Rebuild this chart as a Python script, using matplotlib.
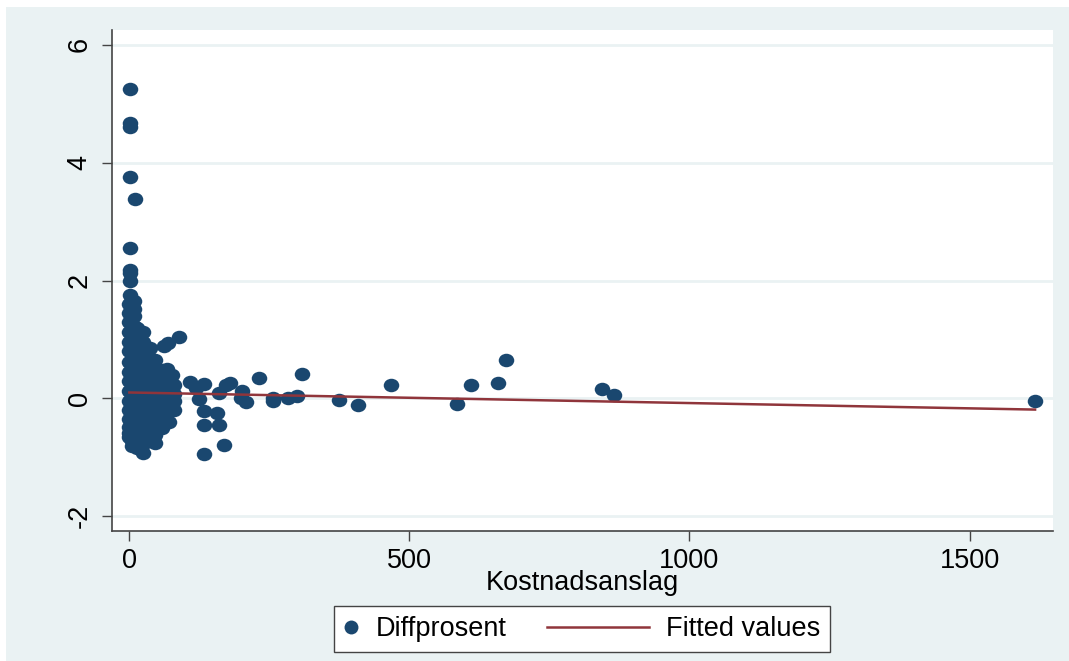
"""
plot.py
Scatter of Diffprosent against Kostnadsanslag with a fitted line, Stata s2color look.
"""

import matplotlib
matplotlib.use("Agg")
import matplotlib.pyplot as plt
from matplotlib.legend_handler import HandlerLine2D
from matplotlib.lines import Line2D
from matplotlib.markers import MarkerStyle
from matplotlib.patches import Rectangle
from matplotlib.path import Path
from matplotlib.transforms import Affine2D

#Colors
navy = "#1a476f"
maroon = "#90353b"
background = "#eaf2f3"
axis_color = "#444444"

#Isolated points on the top of the cloud and on the right of it
outer_x = [1, 2, 1, 1, 10, 1, 2, 2, 1, 1,
           88, 69, 62, 67, 76, 45,
           108, 119, 133, 124, 133, 156, 133, 160, 169, 133,
           160, 172, 179, 201, 199, 208, 231, 256, 256, 283, 299, 308,
           374, 408, 467, 585, 610, 658, 672, 844, 865, 1617]
outer_y = [5.25, 4.67, 4.6, 3.75, 3.38, 2.55, 2.18, 2.12, 2.0, 1.75,
           1.04, 0.94, 0.89, 0.5, 0.39, 0.65,
           0.28, 0.18, 0.24, -0.01, -0.21, -0.25, -0.45, -0.45, -0.79, -0.94,
           0.09, 0.23, 0.26, 0.13, 0.0, -0.06, 0.35, 0.01, -0.04, 0.0, 0.04, 0.41,
           -0.03, -0.11, 0.23, -0.1, 0.23, 0.26, 0.65, 0.16, 0.06, -0.05]

cloud_x = [0] * 16 + [8] * 15 + [14] * 13 + [24] * 13 + [36] * 10 + [46] * 8 + [58] * 7 + [70] * 7 + [80] * 4 + [5] * 2
cloud_y = [1.6, 1.45, 1.3, 1.12, 0.95, 0.8, 0.62, 0.45, 0.3, 0.12, -0.05, -0.2, -0.35, -0.48, -0.58, -0.66,
           1.65, 1.52, 1.4, 1.22, 1.05, 0.88, 0.7, 0.52, 0.35, 0.18, 0.0, -0.18, -0.35, -0.52, -0.68,
           1.2, 1.05, 0.9, 0.72, 0.55, 0.38, 0.2, 0.02, -0.15, -0.32, -0.5, -0.68, -0.84,
           1.12, 0.95, 0.78, 0.6, 0.42, 0.25, 0.08, -0.1, -0.28, -0.45, -0.62, -0.78, -0.92,
           0.85, 0.68, 0.5, 0.32, 0.15, -0.02, -0.2, -0.38, -0.55, -0.72,
           0.42, 0.25, 0.08, -0.1, -0.28, -0.45, -0.62, -0.75,
           0.48, 0.35, 0.2, 0.02, -0.15, -0.32, -0.5,
           0.3, 0.12, -0.05, -0.22, -0.4, 0.42, 0.2,
           0.22, 0.08, -0.05, -0.2,
           -0.72, -0.8]

#Fitted line
fit_x = [0, 1617]
fit_y = [0.1, -0.19]

#Ticks
x_ticks = [0, 500, 1000, 1500]
y_ticks = [-2, 0, 2, 4, 6]


class NarrowHandler(HandlerLine2D):
    #Only the marker entry gets a short handle, Stata draws it that way

    def legend_artist(self, legend, orig_handle, fontsize, handlebox):
        handlebox.width = fontsize * 0.55
        return super().legend_artist(legend, orig_handle, fontsize, handlebox)


plt.rcParams["font.family"] = ["Liberation Sans", "DejaVu Sans"]
plt.rcParams["axes.unicode_minus"] = False

fig = plt.figure(figsize=(10.69, 6.61), dpi=100, facecolor="white")
fig.patches.append(Rectangle((6 / 1069, 0), 1063 / 1069, 654 / 661, transform=fig.transFigure,
                             facecolor=background, edgecolor="none", zorder=-5))

ax = fig.add_axes([112 / 1069, 130 / 661, 941 / 1069, 501 / 661], facecolor="white")
ax.set_xlim(-31, 1649)
ax.set_ylim(-2.25, 6.25)

ax.yaxis.grid(True, color=background, linewidth=2)
ax.set_axisbelow(True)

#The original picture is stretched sideways, so the dots are slightly wide
wide_dot = MarkerStyle(Path.unit_circle().transformed(Affine2D().scale(1.15, 1)))
ax.scatter(outer_x + cloud_x, outer_y + cloud_y, s=125, marker=wide_dot, color=navy, linewidths=0, zorder=3)
ax.plot(fit_x, fit_y, color=maroon, linewidth=1.8, zorder=4)

ax.set_xticks(x_ticks)
ax.set_yticks(y_ticks)
ax.tick_params(axis="both", length=7, width=1, color=axis_color, labelsize=19.5, labelcolor="black")
ax.tick_params(axis="x", pad=5)
ax.tick_params(axis="y", pad=7)
plt.setp(ax.get_yticklabels(), rotation=90, va="center")

ax.spines["top"].set_visible(False)
ax.spines["right"].set_visible(False)
ax.spines["left"].set_color(axis_color)
ax.spines["bottom"].set_color(axis_color)
ax.spines["left"].set_linewidth(1.2)
ax.spines["bottom"].set_linewidth(1.2)

ax.set_xlabel("Kostnadsanslag", fontsize=19.5, labelpad=-2.5)

marker_handle = Line2D([], [], linestyle="none", marker="o", markersize=10,
                       markerfacecolor=navy, markeredgecolor="none")
line_handle = Line2D([], [], color=maroon, linewidth=1.8)
legend = fig.legend([marker_handle, line_handle], ["Diffprosent", "Fitted values"],
                    handler_map={marker_handle: NarrowHandler(numpoints=1)},
                    ncols=2, loc="center", bbox_to_anchor=(582 / 1069, 1 - 629 / 661),
                    fontsize=19.5, frameon=True, fancybox=False, framealpha=1,
                    edgecolor=axis_color, facecolor="white",
                    handlelength=3.77, handletextpad=0.63, columnspacing=1.48,
                    borderpad=0.37, borderaxespad=0)
legend.get_frame().set_linewidth(1.0)

fig.savefig("out.png", dpi=100)
